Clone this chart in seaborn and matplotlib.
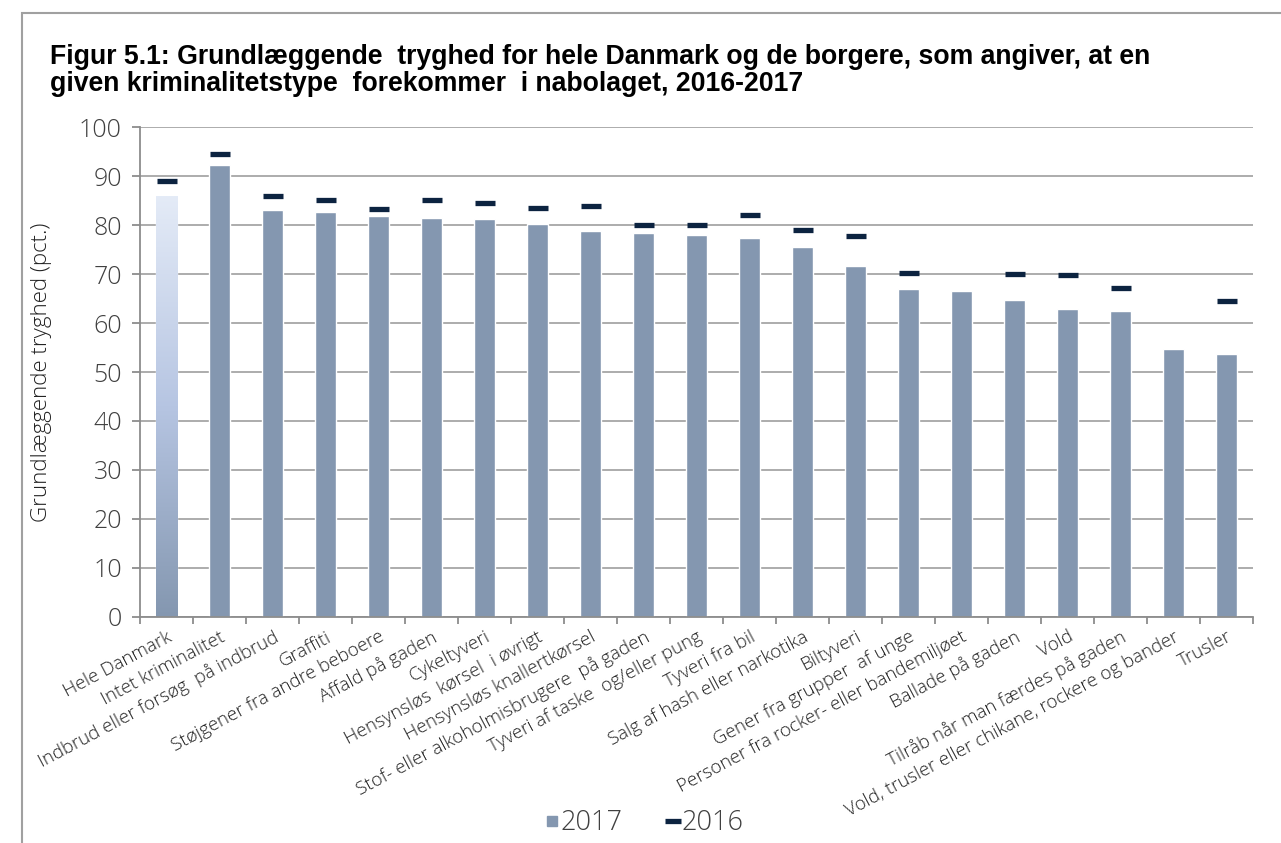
import numpy as np
import matplotlib
matplotlib.use("Agg")
import matplotlib.pyplot as plt
import seaborn as sns
from matplotlib.patches import Rectangle
from matplotlib.lines import Line2D
from matplotlib.colors import LinearSegmentedColormap

# %% data
categories = [
    "Hele Danmark", "Intet kriminalitet", "Indbrud eller forsøg  på indbrud",
    "Graffiti", "Støjgener fra andre beboere", "Affald på gaden", "Cykeltyveri",
    "Hensynsløs  kørsel  i øvrigt", "Hensynsløs knallertkørsel",
    "Stof- eller alkoholmisbrugere  på gaden", "Tyveri af taske  og/eller pung",
    "Tyveri fra bil", "Salg af hash eller narkotika", "Biltyveri",
    "Gener fra grupper  af unge", "Personer fra rocker- eller bandemiljøet",
    "Ballade på gaden", "Vold", "Tilråb når man færdes på gaden",
    "Vold, trusler eller chikane, rockere og bander", "Trusler",
]
values_2017 = [85.9, 92.2, 83.0, 82.7, 81.8, 81.5, 81.2, 80.3, 78.8, 78.5, 77.9,
               77.3, 75.5, 71.6, 66.9, 66.6, 64.8, 62.8, 62.4, 54.8, 53.6]
values_2016 = [89.1, 94.6, 85.9, 85.2, 83.3, 85.1, 84.6, 83.5, 83.9, 80.1, 80.1,
               82.0, 79.0, 77.7, 70.3, np.nan, 70.1, 69.9, 67.1, np.nan, 64.6]
yticks = [0, 10, 20, 30, 40, 50, 60, 70, 80, 90, 100]

title_lines = [
    "Figur 5.1: Grundlæggende  tryghed for hele Danmark og de borgere, som angiver, at en",
    "given kriminalitetstype  forekommer  i nabolaget, 2016-2017",
]

bar_color = "#8497b0"
dash_color = "#0c2340"
grid_color = "#a6a6a6"
text_color = "#404040"

# %% figure
sns.set_theme(style="white")
plt.rcParams["font.family"] = ["Open Sans", "DejaVu Sans"]

W, H = 1281, 843
fig = plt.figure(figsize=(W / 100, H / 100), dpi=100)
ax = fig.add_axes([140 / W, 1 - 616.7 / H, (1253 - 140) / W, (616.7 - 127.3) / H])

sns.barplot(x=categories, y=values_2017, order=categories, color=bar_color,
            saturation=1, width=0.41, ax=ax, zorder=2)
sns.pointplot(x=categories, y=values_2016, order=categories, linestyle="none",
              marker="_", markersize=14, markeredgewidth=3.8, color=dash_color,
              errorbar=None, ax=ax, zorder=4)

# gradient fill for "Hele Danmark"
first = ax.patches[0]
x0, y0 = first.get_x(), first.get_y()
w, h = first.get_width(), first.get_height()
first.set_facecolor("none")
cmap = LinearSegmentedColormap.from_list("grad", ["#8497b0", "#b6c5e2", "#e4ebf7"])
grad = np.linspace(0, 1, 256).reshape(-1, 1)
im = ax.imshow(grad, extent=(x0, x0 + w, y0, y0 + h), origin="lower", cmap=cmap,
               aspect="auto", zorder=2)
im.set_clip_path(first)

ax.set_xlim(-0.5, len(categories) - 0.5)
ax.set_ylim(0, 100)
ax.set_yticks(yticks)
ax.grid(axis="y", color=grid_color, linewidth=1.3, zorder=0)
ax.set_axisbelow(True)

for side in ["top", "right"]:
    ax.spines[side].set_visible(False)
for side in ["left", "bottom"]:
    ax.spines[side].set_color("#8c8c8c")
    ax.spines[side].set_linewidth(1.3)

ax.tick_params(axis="y", which="major", length=6, width=1.3, color="#8c8c8c",
               labelsize=18, labelcolor=text_color, pad=7, left=True)
ax.set_xticks(np.arange(-0.5, len(categories)), minor=True)
ax.tick_params(axis="x", which="minor", length=5, width=1.3, color="#8c8c8c", bottom=True)
ax.tick_params(axis="x", which="major", length=0, pad=8)
ax.set_xticklabels(categories, rotation=28, ha="right", va="top",
                   rotation_mode="anchor", fontsize=13.5, color="#222222")
for lbl in ax.get_xticklabels():
    lbl.set_fontweight("light")
for lbl in ax.get_yticklabels():
    lbl.set_fontweight("light")

ax.set_xlabel("")
ax.set_ylabel("Grundlæggende tryghed (pct.)", fontsize=16, color="#222222",
              fontweight="light")
ax.yaxis.set_label_coords(-88 / (1253 - 140), 0.5)

# title, two lines placed at their baselines
for line, base in zip(title_lines, [64, 91]):
    fig.text(50 / W, 1 - base / H, line, ha="left", va="baseline", fontsize=19.2,
             fontweight="bold", color="black",
             family=["Liberation Sans", "DejaVu Sans"])

# outer frame
fig.add_artist(Rectangle((22 / W, -0.1), 1.2, 1 - 13 / H + 0.1,
                         transform=fig.transFigure, fill=False,
                         edgecolor="#a0a0a0", linewidth=1.5))

# legend
handles = [
    Line2D([], [], linestyle="none", marker="s", markersize=7.5, color=bar_color),
    Line2D([], [], linestyle="none", marker="_", markersize=12,
           markeredgewidth=3.8, color=dash_color),
]
leg = fig.legend(handles, ["2017", "2016"], loc="center",
                 bbox_to_anchor=(644 / W, 1 - 823 / H), ncol=2, frameon=False,
                 fontsize=19.5, handlelength=0.55, handletextpad=0.05,
                 columnspacing=1.6, borderaxespad=0)
for t in leg.get_texts():
    t.set_color(text_color)
    t.set_fontweight("light")

fig.savefig("out.png", dpi=100)
